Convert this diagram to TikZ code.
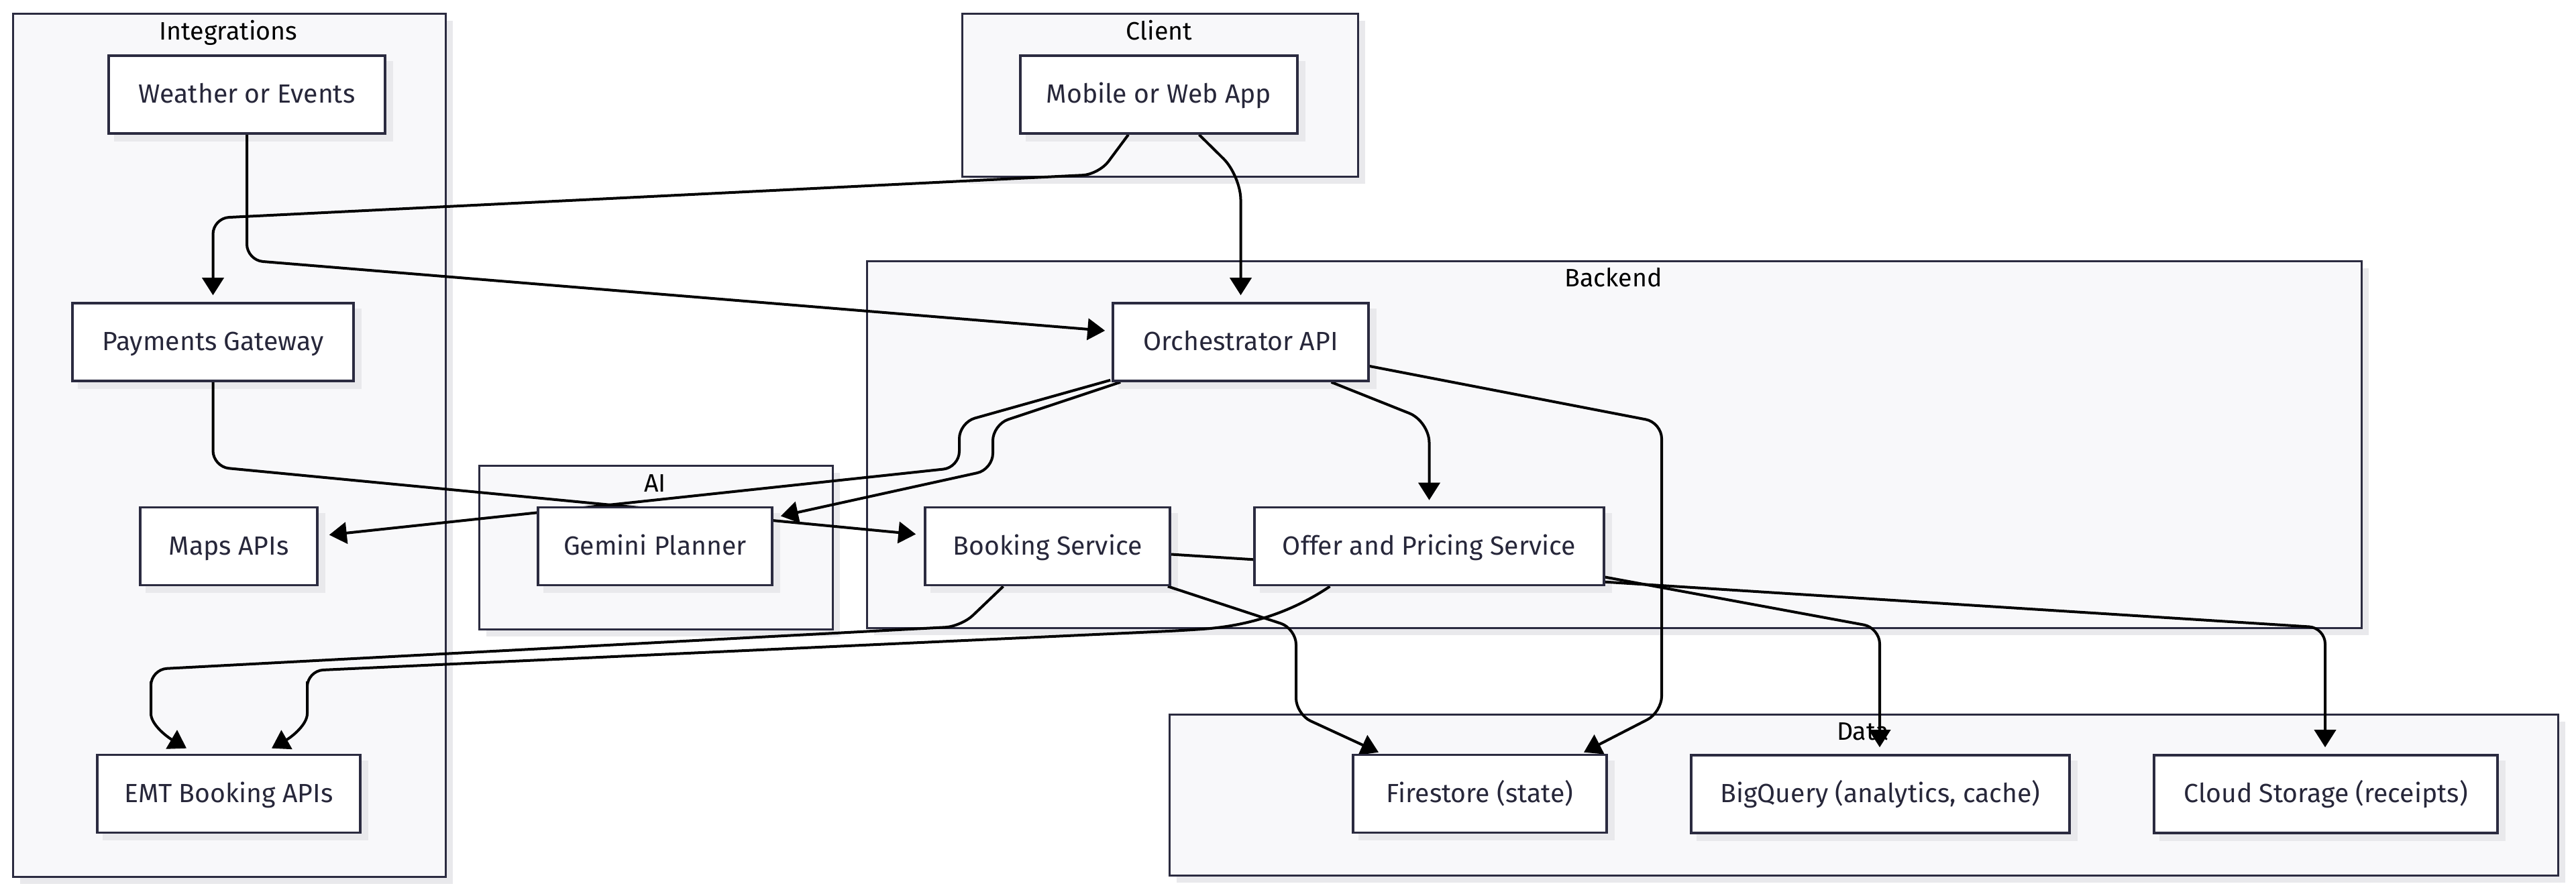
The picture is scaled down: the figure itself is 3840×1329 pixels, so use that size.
\documentclass[tikz,border=0pt]{standalone}
\usepackage{fontspec}
\setmainfont{Fira Sans}
\usetikzlibrary{arrows.meta,calc,shadows}
\definecolor{framefill}{HTML}{F8F8FA}
\definecolor{bordc}{HTML}{2B2B40}
\definecolor{shadowc}{HTML}{E9E9EC}
\definecolor{txtc}{HTML}{27273A}
\pgfdeclarelayer{bg}
\pgfdeclarelayer{frames}
\pgfdeclarelayer{nshadows}
\pgfdeclarelayer{edges}
\pgfsetlayers{bg,frames,nshadows,edges,main}
\begin{document}
\begin{tikzpicture}[x=0.25pt,y=-0.25pt,
  shadowed/.style={drop shadow={shadow xshift=2.5pt,shadow yshift=-2.5pt,fill=shadowc,opacity=1}},
  frame/.style={draw=bordc,fill=framefill,line width=0.85pt,inner sep=0pt,anchor=north west,shadowed},
  flabel/.style={text=black,font=\fontsize{9.4}{11}\selectfont,inner sep=0pt,text height=1.5ex,text depth=.3ex},
  box/.style={draw=bordc,fill=white,line width=0.9pt,inner sep=0pt,minimum height=29pt,text=txtc,font=\fontsize{9.8}{12}\selectfont,text height=1.5ex,text depth=.3ex},
  conn/.style={draw=black,line width=1pt,rounded corners=6pt,-{Triangle[length=6.5pt,width=8pt]}}]
\useasboundingbox (0,0) rectangle (3840,1329);
\begin{pgfonlayer}{bg}
\fill[white] (0,0) rectangle (3840,1329);
\end{pgfonlayer}
\begin{pgfonlayer}{frames}
\node[frame,minimum width=161.25pt,minimum height=321.75pt] (integ) at (18,19) {};
\node[frame,minimum width=147.5pt,minimum height=60.75pt] (client) at (1433,19) {};
\node[frame,minimum width=131.75pt,minimum height=61pt] (ai) at (713,693) {};
\node[frame,minimum width=557pt,minimum height=136.75pt] (backend) at (1291,388) {};
\node[frame,minimum width=517.5pt,minimum height=60pt] (data) at (1742,1064) {};
\node[flabel] (integlbl) at (340.5,47) {Integrations};
\node[flabel] (clientlbl) at (1728,47) {Client};
\node[flabel] (ailbl) at (976.5,721) {AI};
\node[flabel] (backendlbl) at (2405,415) {Backend};
\node[flabel] (datalbl) at (2777,1091) {Data};
\end{pgfonlayer}
\node[box,minimum width=103pt] (weather) at (368,141) {Weather or Events};
\node[box,minimum width=103.25pt] (mobile) at (1727.5,141) {Mobile or Web App};
\node[box,minimum width=104.75pt] (payments) at (317.5,510) {Payments Gateway};
\node[box,minimum width=95.25pt] (orch) at (1849.5,510) {Orchestrator API};
\node[box,minimum width=66pt] (maps) at (341,814.5) {Maps APIs};
\node[box,minimum width=87.25pt] (gemini) at (976.5,814.5) {Gemini Planner};
\node[box,minimum width=91.25pt] (booking) at (1561.5,814.5) {Booking Service};
\node[box,minimum width=130.25pt] (offer) at (2130.5,814.5) {Offer and Pricing Service};
\node[box,minimum width=98pt] (emt) at (341,1183.5) {EMT Booking APIs};
\node[box,minimum width=94.5pt] (firestore) at (2206,1183.5) {Firestore (state)};
\node[box,minimum width=141pt] (bigquery) at (2803,1184) {BigQuery (analytics, cache)};
\node[box,minimum width=128pt] (cloud) at (3467,1184) {Cloud Storage (receipts)};
\begin{pgfonlayer}{nshadows}
\foreach \n in {weather,mobile,payments,orch,maps,gemini,booking,offer,emt,firestore,bigquery,cloud}
  \fill[shadowc] ($(\n.south west)+(10,10)$) rectangle ($(\n.north east)+(10,10)$);
\end{pgfonlayer}
\begin{pgfonlayer}{edges}
\draw[conn] ($(mobile.south)+(-45.5,0)$) -- (1638,260) -- ($(payments.north)+(0,-125)$) -- ($(payments.north)+(0,-10)$);
\draw[conn,rounded corners=9pt] ($(mobile.south)+(60,0)$) -- (1849.5,262) -- ($(orch.north)+(0,-10)$);
\draw[conn] (weather.south) -- (368,388) -- ($(orch.west)+(-10,-17)$);
\draw[conn] (payments.south) -- (317.5,696) -- ($(booking.west)+(-12,-18)$);
\draw[conn] ($(orch.south west)+(-2,-3)$) -- (1430,630) -- (1430,697) -- ($(maps.east)+(16,-17)$);
\draw[conn] ($(orch.south west)+(13,0)$) -- (1480,633) -- (1480,700) -- ($(gemini.east)+(11,-45)$);
\draw[conn,rounded corners=8pt] ($(orch.south)+(135,0)$) -- (2130.5,628) -- ($(offer.north)+(0,-9)$);
\draw[conn] ($(orch.east)+(0,36)$) -- (2477,630) -- (2477,1062) -- ($(firestore.north)+(155,-2)$);
\draw[conn] ($(booking.south east)+(-5,0)$) -- (1932,937) -- (1932,1065) -- ($(firestore.north)+(-151,-2)$);
\draw[conn] ($(booking.south)+(-66,0)$) -- (1433,934) -- (225,998) -- (225,1040) .. controls (225,1080) and (248,1098) .. ($(emt.north)+(-63,-8)$);
\draw[conn] ($(offer.south)+(-148,0)$) .. controls (1900,930) and (1820,936) .. (1764,940) -- (458,1000) -- (458,1040) .. controls (458,1080) and (436,1098) .. ($(emt.north)+(64,-8)$);
\draw[conn] ($(booking.east)+(0,12)$) -- (3466,936) -- ($(cloud.north)+(-1,-10)$);
\draw[conn] ($(offer.east)+(0,46)$) -- (2802,936) -- ($(bigquery.north)+(-1,-10)$);
\end{pgfonlayer}
\end{tikzpicture}
\end{document}
